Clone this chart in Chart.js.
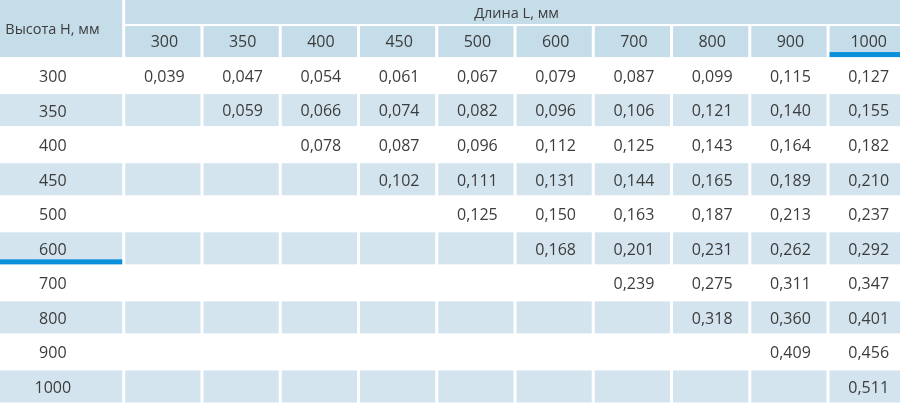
<!DOCTYPE html>
<html lang="ru">
<head>
  <meta charset="UTF-8" />
  <title>Таблица объёмов</title>
  <script src="https://cdn.jsdelivr.net/npm/chart.js"></script>
  <style>
    body {
      margin: 0;
      background: #fff;
    }
    .wrap {
      width: 900px;
      height: 405px;
      position: relative;
    }
  </style>
</head>
<body>
  <div class="wrap">
    <canvas id="grid"></canvas>
  </div>

  <script>
    // column / row headings
    const lengths = ['300', '350', '400', '450', '500', '600', '700', '800', '900', '1000'];
    const heights = ['300', '350', '400', '450', '500', '600', '700', '800', '900', '1000'];
    const lengthTitle = 'Длина L, мм';
    const heightTitle = 'Высота Н, мм';

    // one array per height row, null = empty cell
    const h300  = [0.039, 0.047, 0.054, 0.061, 0.067, 0.079, 0.087, 0.099, 0.115, 0.127];
    const h350  = [null, 0.059, 0.066, 0.074, 0.082, 0.096, 0.106, 0.121, 0.140, 0.155];
    const h400  = [null, null, 0.078, 0.087, 0.096, 0.112, 0.125, 0.143, 0.164, 0.182];
    const h450  = [null, null, null, 0.102, 0.111, 0.131, 0.144, 0.165, 0.189, 0.210];
    const h500  = [null, null, null, null, 0.125, 0.150, 0.163, 0.187, 0.213, 0.237];
    const h600  = [null, null, null, null, null, 0.168, 0.201, 0.231, 0.262, 0.292];
    const h700  = [null, null, null, null, null, null, 0.239, 0.275, 0.311, 0.347];
    const h800  = [null, null, null, null, null, null, null, 0.318, 0.360, 0.401];
    const h900  = [null, null, null, null, null, null, null, null, 0.409, 0.456];
    const h1000 = [null, null, null, null, null, null, null, null, null, 0.511];
    const rows = [h300, h350, h400, h450, h500, h600, h700, h800, h900, h1000];

    const HEAD_BG = '#c5dce9';
    const ROW_BG = '#d3e4ee';
    const ACCENT = '#0a90da';
    const TEXT = '#3c3c3c';
    const FONT = '"Open Sans", "DejaVu Sans", sans-serif';

    // points at cell centres, text is drawn at the element positions
    const points = [];
    rows.forEach((r, ri) => {
      r.forEach((v, ci) => {
        if (v !== null) points.push({ x: ci + 0.5, y: ri + 0.5, v });
      });
    });

    const fmt = v => v.toFixed(3).replace('.', ',');

    const tablePlugin = {
      id: 'table',
      beforeDatasetsDraw(chart) {
        const { ctx, scales: { x, y } } = chart;
        const cell = (x0, x1, y0, y1, color, gx = 3, gy = 2.5) => {
          const px0 = x.getPixelForValue(x0), px1 = x.getPixelForValue(x1);
          const py0 = y.getPixelForValue(y0), py1 = y.getPixelForValue(y1);
          ctx.fillStyle = color;
          ctx.fillRect(px0, py0, px1 - px0 - gx, py1 - py0 - gy);
        };
        const line = (x0, x1, yb, color) => {
          const px0 = x.getPixelForValue(x0), px1 = x.getPixelForValue(x1);
          const py = y.getPixelForValue(yb);
          ctx.fillStyle = color;
          ctx.fillRect(px0, py - 7.5, px1 - px0 - 3, 5);
        };
        ctx.save();
        // header block
        cell(-1.6, 0, -1.725, 0, HEAD_BG);
        cell(0, 10, -1.725, -0.97, HEAD_BG, 3, 2);
        lengths.forEach((_, i) => cell(i, i + 1, -0.97, 0, HEAD_BG));
        // shaded body rows
        heights.forEach((_, ri) => {
          if (ri % 2 === 1) {
            cell(-1.6, 0, ri, ri + 1, ROW_BG);
            lengths.forEach((_, ci) => cell(ci, ci + 1, ri, ri + 1, ROW_BG));
          }
        });
        line(9, 10, 0, ACCENT);
        line(-1.6, 0, 6, ACCENT);
        ctx.restore();
      },
      afterDatasetsDraw(chart) {
        const { ctx, scales: { x, y } } = chart;
        ctx.save();
        ctx.fillStyle = TEXT;
        ctx.textAlign = 'center';
        ctx.textBaseline = 'middle';

        ctx.font = '14.5px ' + FONT;
        ctx.fillText(heightTitle, x.getPixelForValue(-0.93), y.getPixelForValue(-0.86));
        ctx.fillText(lengthTitle, x.getPixelForValue(5.0), y.getPixelForValue(-1.32));

        ctx.font = '16px ' + FONT;
        lengths.forEach((l, i) => {
          ctx.fillText(l, x.getPixelForValue(i + 0.5), y.getPixelForValue(-0.5));
        });
        heights.forEach((h, i) => {
          ctx.fillText(h, x.getPixelForValue(-0.925), y.getPixelForValue(i + 0.52));
        });
        const meta = chart.getDatasetMeta(0);
        meta.data.forEach((el, i) => {
          ctx.fillText(fmt(points[i].v), el.x, el.y + 0.5);
        });
        ctx.restore();
      }
    };

    new Chart(document.getElementById('grid'), {
      type: 'scatter',
      data: {
        datasets: [{ data: points, pointRadius: 0, pointHoverRadius: 0 }]
      },
      options: {
        responsive: true,
        maintainAspectRatio: false,
        animation: false,
        events: [],
        layout: { padding: 0 },
        plugins: {
          legend: { display: false },
          tooltip: { enabled: false }
        },
        scales: {
          x: { type: 'linear', min: -1.6, max: 9.9, display: false },
          y: { type: 'linear', min: -1.725, max: 10, reverse: true, display: false }
        }
      },
      plugins: [tablePlugin]
    });
  </script>
</body>
</html>
